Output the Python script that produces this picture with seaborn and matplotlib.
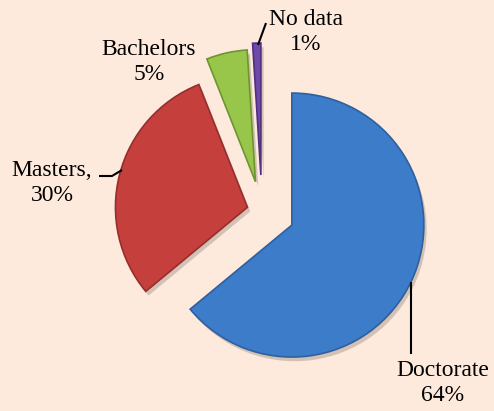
import matplotlib
matplotlib.use("Agg")
import matplotlib.pyplot as plt
import matplotlib.patheffects as pe
import seaborn as sns

categories = ["Doctorate", "Masters", "Bachelors", "No data"]
percentages = [64, 30, 5, 1]
label_texts = ["Doctorate\n64%", "Masters,\n30%", "Bachelors\n5%", "No data\n1%"]

sns.set_style("white")
plt.rcParams["font.family"] = ["Liberation Serif", "DejaVu Serif"]

bg = "#FDEADD"
palette = sns.color_palette(["#3D7CC9", "#C5403D", "#98C64A", "#7048A8"])
edges = ["#2F5F9E", "#962E2C", "#6E9530", "#4F2F80"]

W, H = 494, 411
fig = plt.figure(figsize=(W / 100, H / 100), dpi=100, facecolor=bg)
ax = fig.add_axes([0, 0, 1, 1])
ax.set_facecolor(bg)

R = 132
center = (262, H - 211)
# matplotlib explode offsets are in data units (pixels here)
explode = [33, 15, 30, 36]

wedges, _ = ax.pie(
    percentages,
    colors=palette,
    startangle=90,
    counterclock=False,
    explode=explode,
    radius=R,
    center=center,
    wedgeprops=dict(linewidth=1.2),
)
for w, ec in zip(wedges, edges):
    w.set_edgecolor(ec)
    w.set_path_effects([pe.SimplePatchShadow(offset=(2, -3), alpha=0.25, shadow_rgbFace="#5a4a40"), pe.Normal()])

ax.set_xlim(0, W)
ax.set_ylim(0, H)
ax.set_aspect("equal")
ax.axis("off")

fs = 17
pos = {
    "Doctorate": (443, 383),
    "Masters": (52, 183),
    "Bachelors": (149, 62),
    "No data": (306, 32),
}
for cat, txt in zip(categories, label_texts):
    x, y = pos[cat]
    ax.text(x, H - y, txt, ha="center", va="center", fontsize=fs,
            linespacing=1.3, color="black")

lk = dict(color="black", lw=1.5, solid_capstyle="butt")
ax.plot([411, 411], [H - 282, H - 354], **lk)
ax.plot([99, 112, 122], [H - 176, H - 176, H - 170], **lk)
ax.plot([258, 266], [H - 45, H - 23], **lk)

fig.savefig("out.png", dpi=100, facecolor=bg)
